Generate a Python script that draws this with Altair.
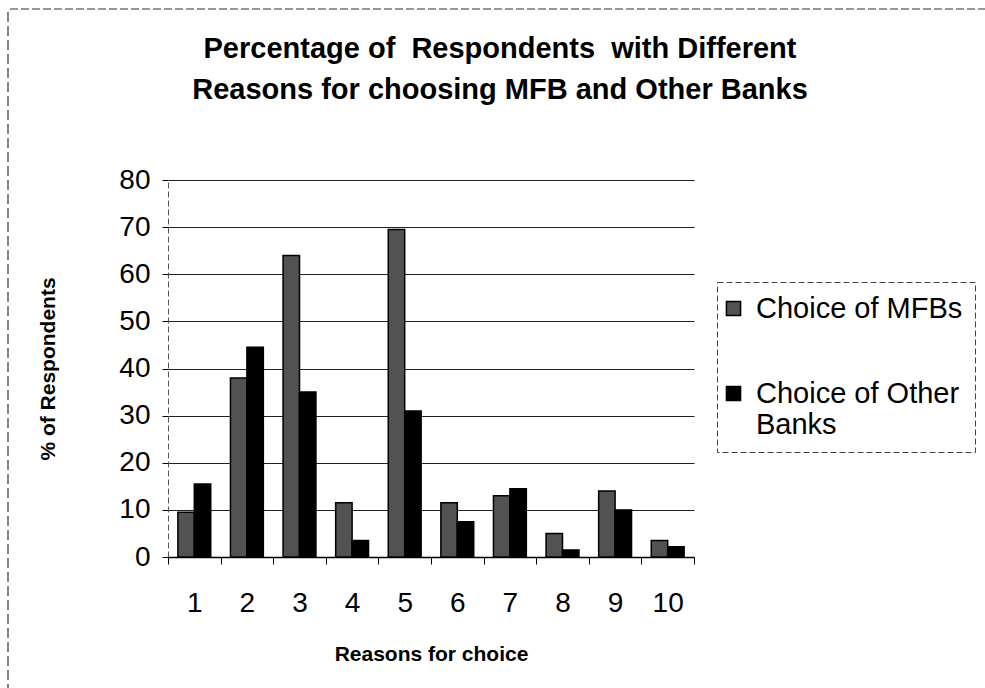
import altair as alt
import pandas as pd

# Reasons 1-10 and the share of respondents (%) naming each one
reasons = ["1", "2", "3", "4", "5", "6", "7", "8", "9", "10"]
mfb_share = [9.5, 38, 64, 11.5, 69.5, 11.5, 13, 5, 14, 3.5]
other_share = [15.5, 44.5, 35, 3.5, 31, 7.5, 14.5, 1.5, 10, 2.2]
series_names = ["Choice of MFBs", "Choice of Other Banks"]
series_colors = ["#525252", "#000000"]
y_ticks = [0, 10, 20, 30, 40, 50, 60, 70, 80]

rows = []
for r, a, b in zip(reasons, mfb_share, other_share):
    rows.append({"reason": r, "series": series_names[0], "pct": a})
    rows.append({"reason": r, "series": series_names[1], "pct": b})
df = pd.DataFrame(rows)

FONT = "Liberation Sans"
PLOT_W, PLOT_H = 526, 377
PAD = {"left": 168, "top": 180, "right": 291, "bottom": 131}

bars = alt.Chart(df).mark_bar(stroke="black", strokeWidth=1.5).encode(
    x=alt.X(
        "reason:N",
        sort=reasons,
        scale=alt.Scale(paddingInner=0, paddingOuter=0),
        axis=alt.Axis(
            title="Reasons for choice",
            labelAngle=0,
            tickBand="extent",
            tickSize=7,
            tickColor="black",
            domainColor="black",
            domainWidth=1.5,
            labelFont=FONT,
            labelFontSize=28,
            labelColor="black",
            labelPadding=25,
            titleFont=FONT,
            titleFontSize=21,
            titleFontWeight="bold",
            titleColor="black",
            titlePadding=26,
            grid=False,
        ),
    ),
    xOffset=alt.XOffset(
        "series:N",
        sort=series_names,
        scale=alt.Scale(paddingOuter=0.6, paddingInner=0),
    ),
    y=alt.Y(
        "pct:Q",
        scale=alt.Scale(domain=[0, 80]),
        axis=alt.Axis(
            title="% of Respondents",
            values=y_ticks,
            grid=True,
            gridColor="#222222",
            gridWidth=1.2,
            tickSize=6,
            tickColor="black",
            domainColor="#555555",
            domainDash=[6, 3],
            labelFont=FONT,
            labelFontSize=28,
            labelColor="black",
            labelPadding=12,
            titleFont=FONT,
            titleFontSize=21,
            titleFontWeight="bold",
            titleColor="black",
            titlePadding=60,
        ),
    ),
    color=alt.Color(
        "series:N",
        sort=series_names,
        scale=alt.Scale(domain=series_names, range=series_colors),
        legend=alt.Legend(
            title=None,
            orient="none",
            legendX=549,
            legendY=102,
            direction="vertical",
            labelExpr="datum.label == 'Choice of Other Banks' ? ['Choice of Other', 'Banks'] : datum.label",
            labelFont=FONT,
            labelFontSize=29,
            labelColor="black",
            labelLimit=400,
            labelOffset=8,
            labelBaseline="middle",
            symbolType="square",
            symbolSize=200,
            symbolOffset=-10,
            symbolStrokeColor="black",
            symbolStrokeWidth=1.5,
            rowPadding=55,
            strokeColor="#444444",
            padding=12,
        ),
    ),
)

# Dashed frame along the top and left edges of the figure
frame_src = pd.DataFrame({"edge": ["frame"]})
frame_top = alt.Chart(frame_src).mark_rule(
    color="#333333", strokeWidth=1.2, strokeDash=[8, 3]
).encode(
    x=alt.value(10 - PAD["left"]),
    x2=alt.value(PLOT_W + PAD["right"]),
    y=alt.value(9 - PAD["top"]),
)
frame_left = alt.Chart(frame_src).mark_rule(
    color="#333333", strokeWidth=1.2, strokeDash=[10, 4]
).encode(
    x=alt.value(8 - PAD["left"]),
    y=alt.value(12 - PAD["top"]),
    y2=alt.value(PLOT_H + PAD["bottom"]),
)

chart = alt.layer(bars, frame_top, frame_left).properties(
    width=PLOT_W,
    height=PLOT_H,
    padding=PAD,
    autosize=alt.AutoSizeParams(type="none"),
    background="white",
    title=alt.TitleParams(
        text=["Percentage of \u00a0Respondents \u00a0with Different",
              "Reasons for choosing MFB and Other Banks"],
        font=FONT,
        fontSize=29,
        fontWeight="bold",
        color="black",
        anchor="middle",
        frame="group",
        dx=69,
        offset=-97,
        lineHeight=41,
    ),
).configure_view(
    stroke=None
).configure_legend(
    strokeDash=[6, 3],
)

chart.save("out.html", embed_options={"renderer": "svg", "actions": False})
